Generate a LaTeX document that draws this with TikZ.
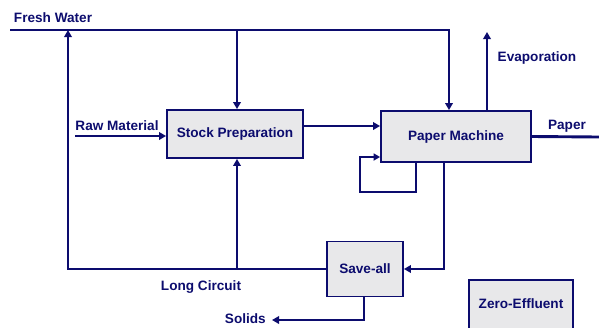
\documentclass[tikz,border=0pt]{standalone}
\usepackage{fontspec}
\setmainfont{Liberation Sans}
\usetikzlibrary{arrows.meta}
\definecolor{navyblue}{RGB}{12,12,110}
\definecolor{boxgray}{RGB}{232,232,234}
\begin{document}
\begin{tikzpicture}[
  x=1pt, y=-1pt,
  every node/.style={font=\bfseries\fontsize{13.6}{16}\selectfont, text=navyblue, inner sep=0pt},
  box/.style={draw=navyblue, fill=boxgray, line width=1.8pt},
  pipe/.style={draw=navyblue, line width=2.9pt},
  flow/.style={pipe, -{Triangle[length=7pt,width=7.5pt]}},
  loopline/.style={draw=navyblue, line width=2pt, -{Triangle[length=6.5pt,width=7pt]}}
]
  \useasboundingbox (0,0) rectangle (599,327);
  \clip (0,0) rectangle (599,327);

  % units
  \node[box, minimum width=136pt, minimum height=48pt] (stock) at (235,134) {Stock Preparation};
  \node[box, minimum width=150pt, minimum height=51pt] (paper) at (456,136.5) {Paper Machine};
  \node[box, minimum width=76pt, minimum height=55pt] (saveall) at (365,269) {Save-all};
  \node[box, minimum width=104pt, minimum height=66pt, anchor=north] (zero) at (521,279) {};
  \node (zerotext) at (521,304) {Zero-Effluent};

  % labels
  \node (fwlabel) at (53,18) {Fresh Water};
  \node (rawlabel) at (117,126) {Raw Material};
  \node (evaplabel) at (537,58) {Evaporation};
  \node (paperlabel) at (567,126) {Paper};
  \node (lclabel) at (201,287) {Long Circuit};
  \node[anchor=east] (sollabel) at (266,319) {Solids};

  % fixed points
  \coordinate (fwL) at (10,30);
  \coordinate (fwR) at (449,30);
  \coordinate (fwS) at (237,30);
  \coordinate (raw) at (75,136);
  \coordinate (evap) at (487,32);
  \coordinate (paperout) at (599,137);
  \coordinate (loopa) at (416,192);
  \coordinate (loopb) at (360,157);
  \coordinate (swin) at (444,269);
  \coordinate (lc) at (68,269);
  \coordinate (lcs) at (237,269);
  \coordinate (sol) at (364,320);
  \coordinate (solend) at (272,320);

  % fresh water
  \draw[flow] (fwL) -- (fwR) -- (fwR |- paper.north);
  \draw[flow] (fwS) -- (fwS |- stock.north);

  % stock line
  \draw[flow] (raw) -- (raw -| stock.west);
  \draw[flow] ([yshift=8pt]stock.east) -- ([yshift=8pt]stock.east -| paper.west);

  % paper machine outlets
  \draw[flow] (paper.north -| evap) -- (evap);
  \draw[pipe] (paper.east) -- (paperout);
  \draw[loopline] (paper.south -| loopa) -- (loopa) -| (loopb) -- (loopb -| paper.west);
  \draw[flow] (paper.south -| swin) -- (swin) -- (swin -| saveall.east);

  % long circuit
  \draw[flow] (saveall.west) -- (lc) -- (lc |- fwL);
  \draw[flow] (lcs) -- (lcs |- stock.south);
  \draw[flow] (saveall.south -| sol) -- (sol) -- (solend);
\end{tikzpicture}
\end{document}
